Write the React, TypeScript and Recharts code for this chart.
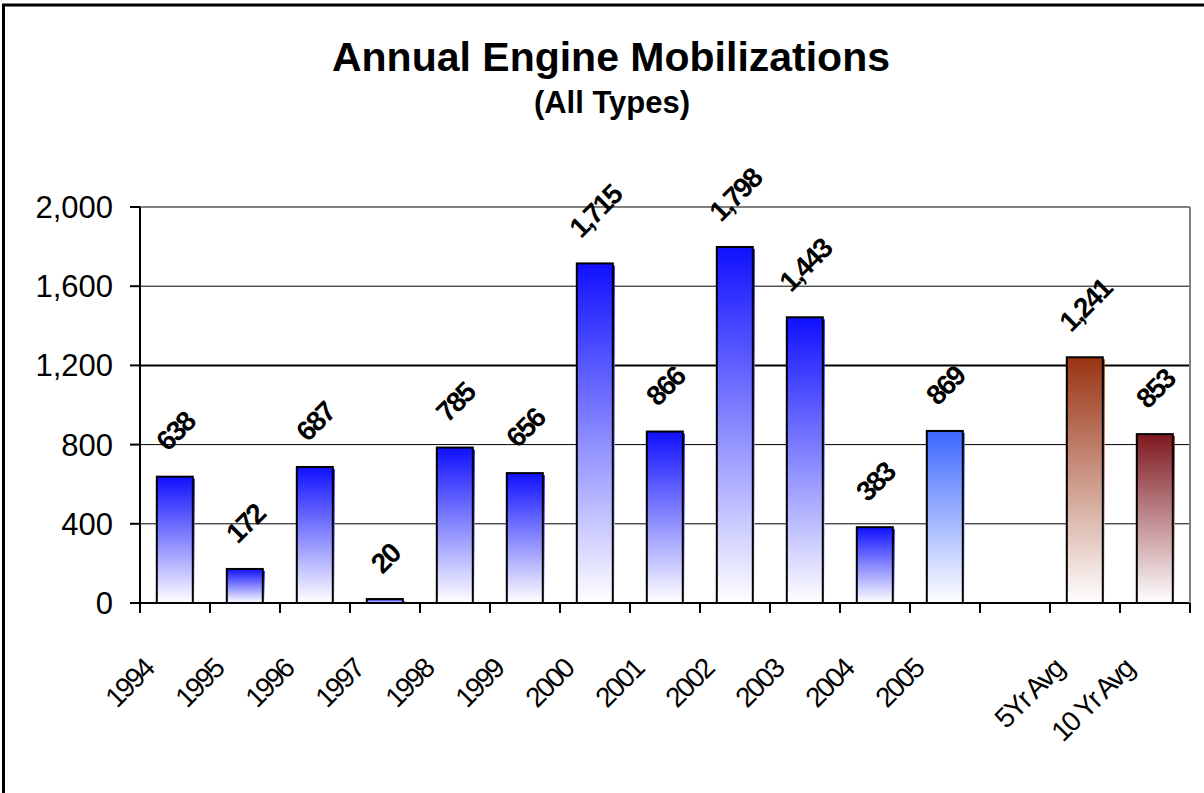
import React from 'react';
import { BarChart, Bar, XAxis, YAxis, CartesianGrid, LabelList } from 'recharts';

const categories = ['1994', '1995', '1996', '1997', '1998', '1999', '2000', '2001', '2002', '2003', '2004', '2005', '', '5Yr Avg', '10 Yr Avg'];
const mobilizations: (number | null)[] = [638, 172, 687, 20, 785, 656, 1715, 866, 1798, 1443, 383, 869, null, 1241, 853];
const yTicks = [0, 400, 800, 1200, 1600, 2000];

const data = categories.map((c, i) => ({ category: c, value: mobilizations[i] }));

const FONT = "'Liberation Sans', Arial, Helvetica, sans-serif";

const gradientFor = (cat: string) => {
  if (cat === '2005') return 'gBlueLight';
  if (cat === '5Yr Avg') return 'gBrown';
  if (cat === '10 Yr Avg') return 'gRed';
  return 'gBlue';
};

const BarShape = (props: any) => {
  const { x, y, width, height, payload } = props;
  if (height == null || height <= 0 || payload?.value == null) return null;
  const id = gradientFor(payload.category);
  return (
    <g>
      <rect x={x + 2} y={y + 2} width={width} height={Math.max(height - 2, 0)} fill={`url(#${id})`} />
      <rect x={x} y={y} width={width} height={height} fill={`url(#${id})`} stroke="#000" strokeWidth={2} />
    </g>
  );
};

const LABEL_FS = 28;
const LABEL_LS = -2;

const renderLabel = (props: any) => {
  const { x, y, width, value } = props;
  if (value == null) return null;
  const s = Number(value).toLocaleString('en-US');
  let w = 0;
  for (const ch of s) w += (ch === ',' ? 0.278 : 0.556) * LABEL_FS + LABEL_LS;
  const h = 0.716 * LABEL_FS;
  const cx = x + width / 2;
  const cy = y - 23 - (w + h) * 0.3536;
  return (
    <text
      x={0}
      y={0}
      dx={-LABEL_LS / 2}
      textAnchor="middle"
      dominantBaseline="central"
      transform={`translate(${cx} ${cy}) rotate(-45)`}
      fontFamily={FONT}
      fontWeight="bold"
      fontSize={LABEL_FS}
      letterSpacing={LABEL_LS}
      fill="#000"
    >
      {s}
    </text>
  );
};

const XTick = (props: any) => {
  const { x, y, payload, index, visibleTicksCount } = props;
  const half = payload && typeof payload.offset === 'number' && payload.offset > 0 ? payload.offset : 35;
  const ax = x - 21;
  const ay = y + 69;
  return (
    <g>
      <line x1={x - half} x2={x - half} y1={y} y2={y + 10} stroke="#000" strokeWidth={2} />
      {index === visibleTicksCount - 1 && (
        <line x1={x + half} x2={x + half} y1={y} y2={y + 10} stroke="#000" strokeWidth={2} />
      )}
      {payload.value ? (
        <text
          x={0}
          y={0}
          dx={2}
          textAnchor="end"
          transform={`translate(${ax} ${ay}) rotate(-45)`}
          fontFamily={FONT}
          fontSize={28}
          letterSpacing={-2}
          fill="#000"
        >
          {payload.value}
        </text>
      ) : null}
    </g>
  );
};

export default function App() {
  return (
    <div style={{ position: 'absolute', left: 0, top: 0, width: 1204, height: 793, overflow: 'hidden', background: '#fff' }}>
      <BarChart
        width={1204}
        height={793}
        data={data}
        margin={{ top: 207, right: 0, bottom: 0, left: 0 }}
        barCategoryGap="24%"
      >
        <defs>
          <linearGradient id="gBlue" x1="0" y1="0" x2="0" y2="1">
            <stop offset="0%" stopColor="#1010FF" />
            <stop offset="100%" stopColor="#FFFFFF" />
          </linearGradient>
          <linearGradient id="gBlueLight" x1="0" y1="0" x2="0" y2="1">
            <stop offset="0%" stopColor="#3D68FF" />
            <stop offset="100%" stopColor="#FFFFFF" />
          </linearGradient>
          <linearGradient id="gBrown" x1="0" y1="0" x2="0" y2="1">
            <stop offset="0%" stopColor="#993312" />
            <stop offset="100%" stopColor="#FFFFFF" />
          </linearGradient>
          <linearGradient id="gRed" x1="0" y1="0" x2="0" y2="1">
            <stop offset="0%" stopColor="#7F1820" />
            <stop offset="100%" stopColor="#FFFFFF" />
          </linearGradient>
        </defs>
        <CartesianGrid yAxisId="l" vertical={false} stroke="#000" strokeWidth={1} horizontalValues={[400, 800, 1600]} />
        <CartesianGrid yAxisId="l" vertical={false} stroke="#000" strokeWidth={2} horizontalValues={[1200]} />
        <CartesianGrid yAxisId="l" vertical={false} stroke="#808080" strokeWidth={2} horizontalValues={[2000]} />
        <XAxis
          dataKey="category"
          type="category"
          height={190}
          interval={0}
          tickLine={false}
          tickSize={0}
          tickMargin={0}
          axisLine={{ stroke: '#000', strokeWidth: 2 }}
          tick={<XTick />}
        />
        <YAxis
          yAxisId="l"
          width={140}
          domain={[0, 2000]}
          ticks={yTicks}
          interval={0}
          tickFormatter={(v: number) => v.toLocaleString('en-US')}
          tickSize={10}
          tickMargin={17}
          tickLine={{ stroke: '#000', strokeWidth: 2 }}
          axisLine={{ stroke: '#000', strokeWidth: 2 }}
          tick={{ fill: '#000', fontSize: 31, fontFamily: FONT }}
        />
        <YAxis
          yAxisId="r"
          orientation="right"
          width={14}
          domain={[0, 2000]}
          tick={false}
          tickLine={false}
          axisLine={{ stroke: '#808080', strokeWidth: 2 }}
        />
        <Bar yAxisId="l" dataKey="value" isAnimationActive={false} shape={<BarShape />}>
          <LabelList dataKey="value" content={renderLabel} />
        </Bar>
      </BarChart>
      <svg
        width={1204}
        height={793}
        style={{ position: 'absolute', left: 0, top: 0, pointerEvents: 'none' }}
      >
        <rect x={3.5} y={5} width={1400} height={1000} fill="none" stroke="#000" strokeWidth={3} />
        <text x={611} y={71} textAnchor="middle" fontFamily={FONT} fontWeight="bold" fontSize={41} fill="#000">
          Annual Engine Mobilizations
        </text>
        <text x={612} y={113} textAnchor="middle" fontFamily={FONT} fontWeight="bold" fontSize={31} fill="#000">
          (All Types)
        </text>
      </svg>
    </div>
  );
}
